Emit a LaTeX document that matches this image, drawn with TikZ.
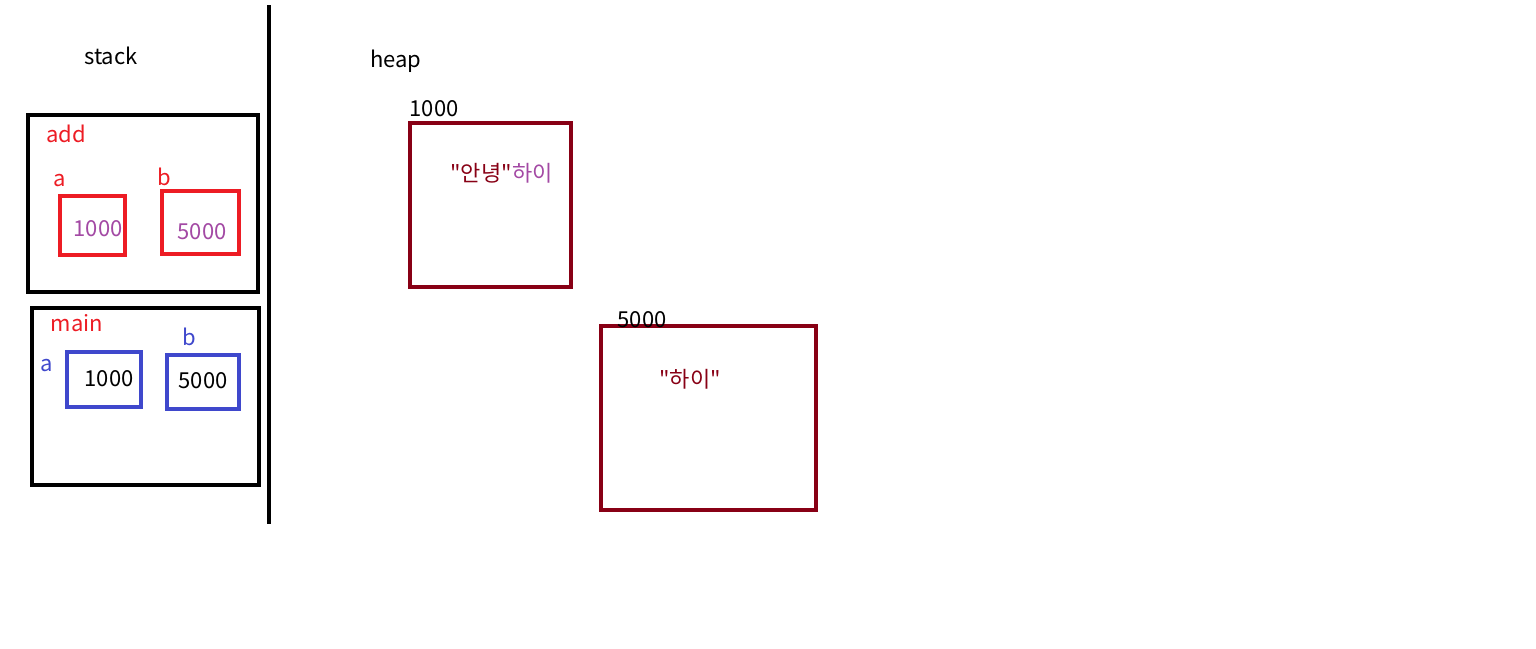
\documentclass[tikz,border=0pt]{standalone}
\usepackage{fontspec}
\setmainfont{Noto Sans CJK KR}[Ligatures=TeXOff]
\definecolor{myred}{HTML}{ED1C24}
\definecolor{myblue}{HTML}{3F48CC}
\definecolor{mypurple}{HTML}{A349A4}
\definecolor{mydark}{HTML}{880015}
\begin{document}
\begin{tikzpicture}[x=1pt,y=-1pt,
  frame/.style={draw=black,line width=4.5pt},
  redbox/.style={draw=myred,line width=4.5pt},
  bluebox/.style={draw=myblue,line width=4.5pt},
  heapbox/.style={draw=mydark,line width=4.5pt},
  lbl/.style={font=\fontsize{22}{26}\selectfont,inner sep=0pt}]
\useasboundingbox (0,0) rectangle (1536,648);
\fill[white] (0,0) rectangle (1536,648);
% divider
\draw[line width=4pt] (269,5) coordinate (d1) -- (269,524) coordinate (d2);
\node[lbl] (stack) at (111,56) {stack};
\node[lbl] (heap) at (396,61) {heap};
% add frame
\node[frame,minimum width=230pt,minimum height=177pt,inner sep=0pt] (addf) at (143,203.5) {};
\node[lbl,text=myred] (addl) at (66,134) {add};
\node[lbl,text=myred] (aa) at (60,181) {a};
\node[lbl,text=myred] (ab) at (164,177) {b};
\node[redbox,minimum width=65pt,minimum height=59pt,inner sep=0pt] (ra) at (92.5,225.5) {};
\node[lbl,text=mypurple] (ra1) at (98,229) {1000};
\node[redbox,minimum width=77pt,minimum height=63pt,inner sep=0pt] (rb) at (200.5,222.5) {};
\node[lbl,text=mypurple] (rb1) at (202,232) {5000};
% main frame
\node[frame,minimum width=227pt,minimum height=177pt,inner sep=0pt] (mainf) at (145.5,396.5) {};
\node[lbl,text=myred] (mainl) at (77,323) {main};
\node[lbl,text=myblue] (ma) at (47,366) {a};
\node[lbl,text=myblue] (mb) at (189,337) {b};
\node[bluebox,minimum width=74pt,minimum height=55pt,inner sep=0pt] (ba) at (104,379.5) {};
\node[lbl] (ba1) at (109,379) {1000};
\node[bluebox,minimum width=72pt,minimum height=54pt,inner sep=0pt] (bb) at (203,382) {};
\node[lbl] (bb1) at (203,381) {5000};
% heap
\node[heapbox,minimum width=161pt,minimum height=164pt,inner sep=0pt] (h1) at (490.5,205) {};
\node[lbl] (h1l) at (434,109) {1000};
\node[lbl,text=mydark,anchor=east] (h1t) at (512,173) {"안녕"};
\node[lbl,text=mypurple,anchor=west] (h1u) at (h1t.east) {하이};
\node[heapbox,minimum width=215pt,minimum height=184pt,inner sep=0pt] (h2) at (708.5,418) {};
\node[lbl] (h2l) at (642,320) {5000};
\node[lbl,text=mydark] (h2t) at (690,379) {"하이"};
\end{tikzpicture}
\end{document}
